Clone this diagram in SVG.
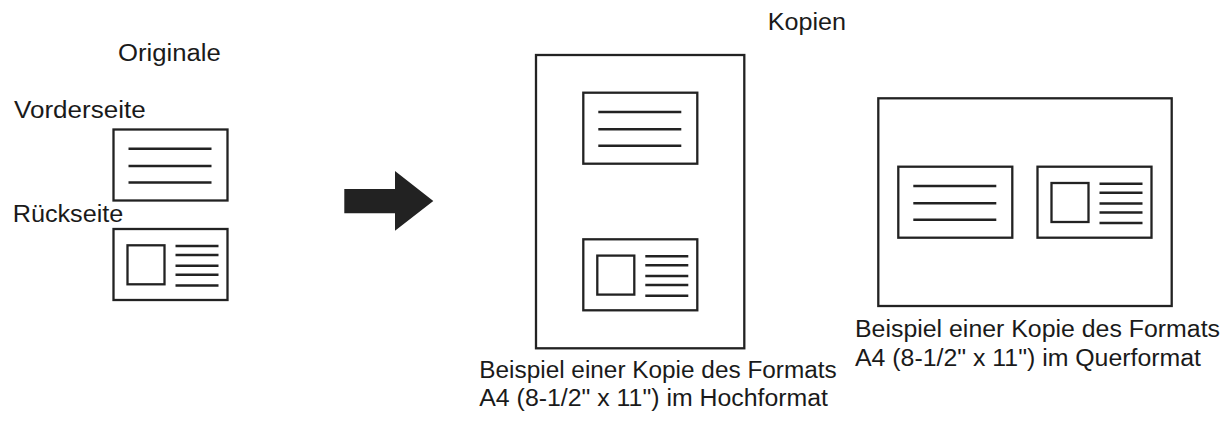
<svg xmlns="http://www.w3.org/2000/svg" xmlns:xlink="http://www.w3.org/1999/xlink" width="1226" height="424" viewBox="0 0 1226 424">
<style>
  .t { font-family: "Liberation Sans", Arial, sans-serif; font-size: 23px; fill: #1a1a1a; }
  .box { fill: #fff; stroke: #222; stroke-width: 2.3; }
  .ln { stroke: #222; stroke-width: 2.5; fill: none; }
</style>
<defs>
  <g id="front">
    <rect class="box" x="0" y="0" width="114" height="71"/>
    <path class="ln" d="M15 19.3H98M15 36.6H98M15 53H98"/>
  </g>
  <g id="back">
    <rect class="box" x="0" y="0" width="114" height="71"/>
    <rect class="box" x="14" y="16.3" width="37" height="39"/>
    <path class="ln" d="M62 17H105M62 26H105M62 36.7H105M62 45.7H105M62 56.4H105"/>
  </g>
</defs>
<rect width="1226" height="424" fill="#fff"/>

<g id="originals">
  <text class="t" x="118" y="60.7" textLength="102.7" lengthAdjust="spacingAndGlyphs">Originale</text>
  <text class="t" x="14" y="118" textLength="131.7" lengthAdjust="spacingAndGlyphs">Vorderseite</text>
  <use xlink:href="#front" x="113.5" y="129.5"/>
  <text class="t" x="12.7" y="222" textLength="110.6" lengthAdjust="spacingAndGlyphs">Rückseite</text>
  <use xlink:href="#back" x="113.5" y="229"/>
</g>

<g id="connectors">
  <polygon points="344.3,189 395,189 395,171 433.3,201 395,230.7 395,213.3 344.3,213.3" fill="#222"/>
</g>

<g id="kopien-title">
  <text class="t" x="767.7" y="30" textLength="78.3" lengthAdjust="spacingAndGlyphs">Kopien</text>
</g>

<g id="portrait">
  <rect class="box" x="536" y="55" width="208.3" height="293.3"/>
  <use xlink:href="#front" x="583.3" y="92.7"/>
  <use xlink:href="#back" x="583.3" y="239.3"/>
  <text class="t" x="479.3" y="377.5" textLength="357.4" lengthAdjust="spacingAndGlyphs">Beispiel einer Kopie des Formats</text>
  <text class="t" x="479.3" y="406" textLength="348.7" lengthAdjust="spacingAndGlyphs">A4 (8-1/2" x 11") im Hochformat</text>
</g>

<g id="landscape">
  <rect class="box" x="878.3" y="98.3" width="293.4" height="207.7"/>
  <use xlink:href="#front" x="898.3" y="166.7"/>
  <use xlink:href="#back" x="1037.5" y="166.7"/>
  <text class="t" x="855" y="336.7" textLength="365" lengthAdjust="spacingAndGlyphs">Beispiel einer Kopie des Formats</text>
  <text class="t" x="855" y="366" textLength="346" lengthAdjust="spacingAndGlyphs">A4 (8-1/2" x 11") im Querformat</text>
</g>
</svg>
